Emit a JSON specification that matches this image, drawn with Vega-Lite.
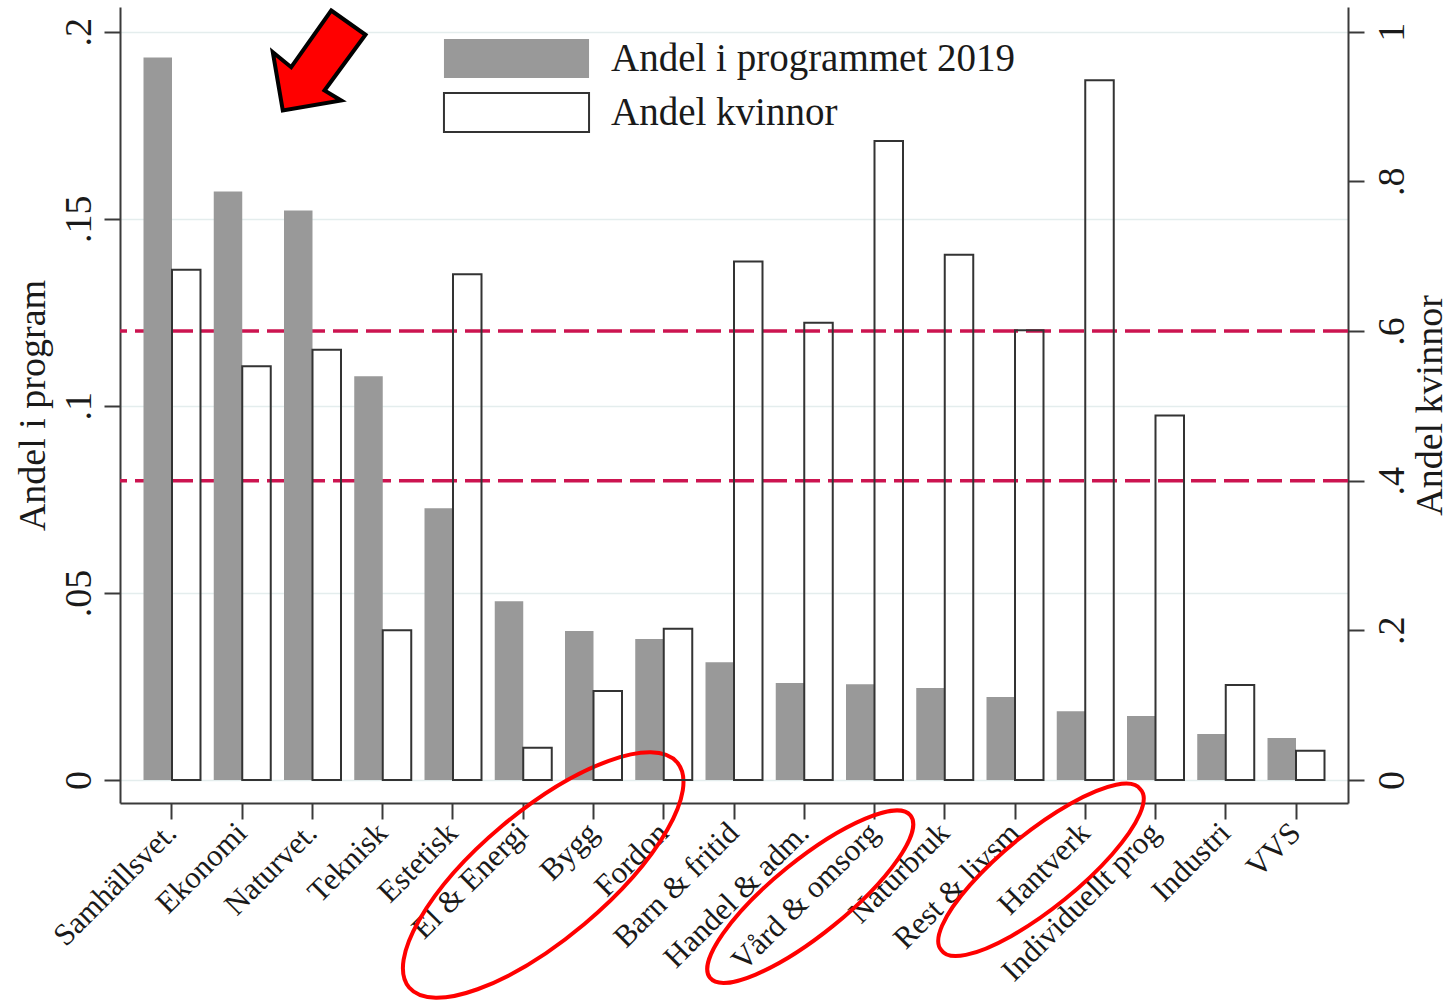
{
  "$schema": "https://vega.github.io/schema/vega-lite/v6.json",
  "width": 1228,
  "height": 796,
  "autosize": {"type": "none"},
  "padding": {"left": 120, "top": 7, "right": 106, "bottom": 202},
  "background": "white",
  "config": {
    "view": {"stroke": null},
    "font": "Liberation Serif",
    "axis": {
      "domainColor": "#3a3a3a",
      "domainWidth": 2,
      "tickColor": "#3a3a3a",
      "tickWidth": 2,
      "tickSize": 16,
      "labelColor": "#1a1a1a",
      "titleColor": "#1a1a1a",
      "labelFont": "Liberation Serif",
      "titleFont": "Liberation Serif",
      "titleFontWeight": "normal",
      "labelLimit": 0
    }
  },
  "datasets": {
    "programs": [
      {"program": "Samhällsvet.", "andel_program": 0.1931, "andel_kvinnor": 0.682},
      {"program": "Ekonomi", "andel_program": 0.1573, "andel_kvinnor": 0.553},
      {"program": "Naturvet.", "andel_program": 0.1522, "andel_kvinnor": 0.575},
      {"program": "Teknisk", "andel_program": 0.1079, "andel_kvinnor": 0.200},
      {"program": "Estetisk", "andel_program": 0.0726, "andel_kvinnor": 0.676},
      {"program": "El & Energi", "andel_program": 0.0478, "andel_kvinnor": 0.043},
      {"program": "Bygg", "andel_program": 0.0398, "andel_kvinnor": 0.119},
      {"program": "Fordon", "andel_program": 0.0377, "andel_kvinnor": 0.202},
      {"program": "Barn & fritid", "andel_program": 0.0315, "andel_kvinnor": 0.693},
      {"program": "Handel & adm.", "andel_program": 0.0259, "andel_kvinnor": 0.611},
      {"program": "Vård & omsorg", "andel_program": 0.0256, "andel_kvinnor": 0.854},
      {"program": "Naturbruk", "andel_program": 0.0246, "andel_kvinnor": 0.702},
      {"program": "Rest & livsm", "andel_program": 0.0222, "andel_kvinnor": 0.601},
      {"program": "Hantverk", "andel_program": 0.0184, "andel_kvinnor": 0.935},
      {"program": "Individuellt prog", "andel_program": 0.0171, "andel_kvinnor": 0.487},
      {"program": "Industri", "andel_program": 0.0123, "andel_kvinnor": 0.127},
      {"program": "VVS", "andel_program": 0.0112, "andel_kvinnor": 0.039}
    ],
    "thresholds": [
      {"andel_kvinnor": 0.4},
      {"andel_kvinnor": 0.6}
    ]
  },
  "layer": [
    {
      "data": {"name": "thresholds"},
      "mark": {"type": "rule", "color": "#cc1450", "strokeWidth": 3.5, "strokeDash": [25, 8]},
      "encoding": {
        "y": {"field": "andel_kvinnor", "type": "quantitative", "scale": {"domain": [-0.03075, 1.033], "nice": false, "zero": false}, "axis": null}
      }
    },
    {
      "layer": [
        {
          "data": {"name": "programs"},
          "mark": {"type": "bar"},
          "encoding": {
            "x": {
              "field": "program", "type": "nominal", "sort": null,
              "scale": {
                "domain": ["Samhällsvet.", "Ekonomi", "Naturvet.", "Teknisk", "Estetisk", "El & Energi", "Bygg", "Fordon", "Barn & fritid", "Handel & adm.", "Vård & omsorg", "Naturbruk", "Rest & livsm", "Hantverk", "Individuellt prog", "Industri", "VVS"],
                "paddingInner": 0.1886, "paddingOuter": 0.3345
              },
              "axis": {"title": null, "labelAngle": -45, "labelAlign": "right", "labelBaseline": "middle", "labelFontSize": 31, "labelPadding": 9, "labelLimit": 0, "grid": false}
            },
            "xOffset": {"datum": "Andel i programmet 2019", "type": "nominal", "scale": {"domain": ["Andel i programmet 2019", "Andel kvinnor"], "paddingInner": 0, "paddingOuter": 0}},
            "y": {
              "field": "andel_program", "type": "quantitative",
              "scale": {"domain": [-0.00615, 0.2066], "nice": false, "zero": false},
              "axis": {
                "orient": "left", "values": [0, 0.05, 0.1, 0.15, 0.2],
                "labelExpr": "datum.value == 0 ? '0' : datum.value >= 1 ? '1' : substring(format(datum.value, '.2~f'), 1)",
                "labelAngle": -90, "labelAlign": "center", "labelBaseline": "alphabetic", "labelFontSize": 38, "labelPadding": 14,
                "title": "Andel i program", "titleFontSize": 38, "titlePadding": 8,
                "grid": true, "gridColor": "#e4eded", "gridWidth": 1.5
              }
            },
            "fill": {
              "datum": "Andel i programmet 2019", "type": "nominal",
              "scale": {"domain": ["Andel i programmet 2019", "Andel kvinnor"], "range": ["#999999", "rgba(255,255,255,0)"]},
              "legend": {
                "title": null, "orient": "none", "legendX": 376, "legendY": 31, "padding": 0,
                "symbolType": "M-3.72,-1H3.72V1H-3.72Z", "symbolSize": 1521, "symbolStrokeWidth": 2,
                "labelFontSize": 39, "labelFont": "Liberation Serif", "labelColor": "#1a1a1a", "labelOffset": 74, "labelLimit": 0, "rowPadding": 7,
                "encode": {"symbols": {"update": {"stroke": {"signal": "datum.value === 'Andel kvinnor' ? '#333333' : 'rgba(0,0,0,0)'"}, "strokeWidth": {"value": 2}}}}
              }
            }
          }
        },
        {
          "data": {"values": [{"program": "Naturvet.", "pos": 0.1923}]},
          "mark": {"type": "point", "shape": "M0.374,-1L1.06,-0.514L0.24,0.6L0.574,0.8L-0.594,1L-0.794,-0.166L-0.426,0.134Z", "size": 10000, "filled": true, "fill": "#ff0000", "stroke": "#000000", "strokeWidth": 4, "opacity": 1, "strokeJoin": "miter"},
          "encoding": {"x": {"field": "program", "type": "nominal"}, "y": {"field": "pos", "type": "quantitative"}}
        },
        {
          "data": {"values": [{"program": "El & Energi", "pos": -0.0254}]},
          "mark": {"type": "point", "shape": "M0.880,-0.643A1,0.366,-40,1,0,-0.652,0.643A1,0.366,-40,1,0,0.880,-0.643Z", "size": 122500, "filled": false, "stroke": "#ff0000", "strokeWidth": 4, "opacity": 1},
          "encoding": {"x": {"field": "program", "type": "nominal"}, "y": {"field": "pos", "type": "quantitative"}}
        },
        {
          "data": {"values": [{"program": "Handel & adm.", "pos": -0.0312}]},
          "mark": {"type": "point", "shape": "M0.824,-0.629A1,0.287,-39,1,0,-0.731,0.629A1,0.287,-39,1,0,0.824,-0.629Z", "size": 66564, "filled": false, "stroke": "#ff0000", "strokeWidth": 4, "opacity": 1},
          "encoding": {"x": {"field": "program", "type": "nominal"}, "y": {"field": "pos", "type": "quantitative"}}
        },
        {
          "data": {"values": [{"program": "Rest & livsm", "pos": -0.024}]},
          "mark": {"type": "point", "shape": "M0.980,-0.629A1,0.289,-39,1,0,-0.574,0.629A1,0.289,-39,1,0,0.980,-0.629Z", "size": 65536, "filled": false, "stroke": "#ff0000", "strokeWidth": 4, "opacity": 1},
          "encoding": {"x": {"field": "program", "type": "nominal"}, "y": {"field": "pos", "type": "quantitative"}}
        }
      ]
    },
    {
      "data": {"name": "programs"},
      "mark": {"type": "bar", "stroke": "#333333", "strokeWidth": 2},
      "encoding": {
        "x": {"field": "program", "type": "nominal", "sort": null},
        "xOffset": {"datum": "Andel kvinnor", "type": "nominal"},
        "y": {
          "field": "andel_kvinnor", "type": "quantitative",
          "scale": {"domain": [-0.03075, 1.033], "nice": false, "zero": false},
          "axis": {
            "orient": "right", "values": [0, 0.2, 0.4, 0.6, 0.8, 1],
            "labelExpr": "datum.value == 0 ? '0' : datum.value >= 1 ? '1' : substring(format(datum.value, '.2~f'), 1)",
            "labelAngle": -90, "labelAlign": "center", "labelBaseline": "top", "labelFontSize": 38, "labelPadding": 9,
            "title": "Andel kvinnor", "titleFontSize": 38, "titleAngle": 270, "titleBaseline": "top", "titlePadding": 0,
            "grid": false
          }
        },
        "fill": {"datum": "Andel kvinnor", "type": "nominal"}
      }
    }
  ],
  "resolve": {"scale": {"y": "independent"}}
}
